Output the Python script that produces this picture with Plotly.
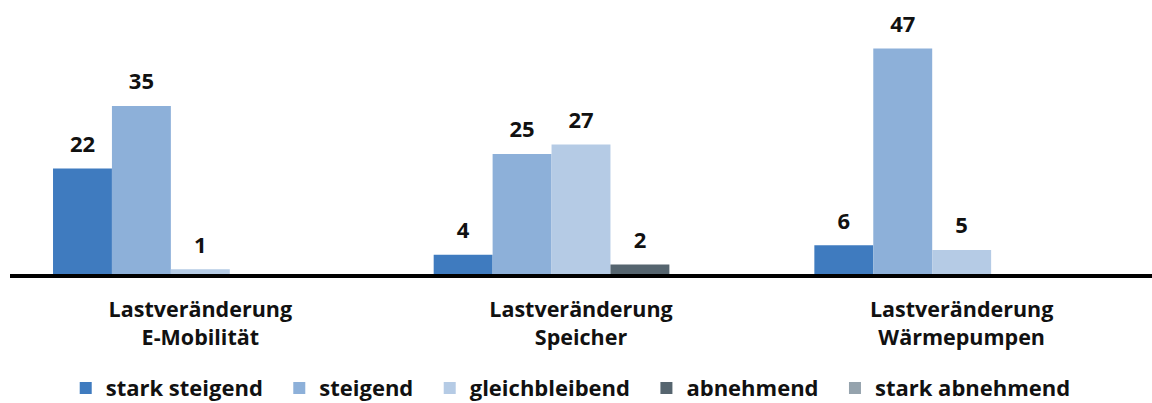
import plotly.graph_objects as go

categories = ["Lastveränderung<br>E-Mobilität", "Lastveränderung<br>Speicher", "Lastveränderung<br>Wärmepumpen"]
series_names = ["stark steigend", "steigend", "gleichbleibend", "abnehmend", "stark abnehmend"]
stark_steigend = [22, 4, 6]
steigend = [35, 25, 47]
gleichbleibend = [1, 27, 5]
abnehmend = [0, 2, 0]
stark_abnehmend = [0, 0, 0]

series_values = [stark_steigend, steigend, gleichbleibend, abnehmend, stark_abnehmend]
colors = ["#3F7BBF", "#8DB0D9", "#B5CBE5", "#56656F", "#95A3AD"]

FONT = "Open Sans"
INK = "#111111"
PAD = "\u00a0\u00a0"   # extra room between legend entries
LABEL_GAP = 1.6        # clearance (data units) between a bar top and its value label

fig = go.Figure()
for i, (name, vals, col) in enumerate(zip(series_names, series_values, colors)):
    label = name if i == len(series_names) - 1 else name + PAD
    group = f"g{i}"
    # the visible bar
    fig.add_trace(go.Bar(
        x=categories,
        y=vals,
        name=label,
        offsetgroup=group,
        marker=dict(color=col, line=dict(width=0)),
    ))
    # a transparent spacer sitting on the bar, carrying the value label
    fig.add_trace(go.Bar(
        x=categories,
        y=[LABEL_GAP] * len(vals),
        base=vals,
        offsetgroup=group,
        showlegend=False,
        hoverinfo="skip",
        marker=dict(color="rgba(0,0,0,0)", line=dict(width=0)),
        text=[str(v) if v else "" for v in vals],
        textposition="outside",
        cliponaxis=False,
        textfont=dict(family=FONT, size=22, color=INK, weight="bold"),
    ))

fig.update_layout(
    width=1152,
    height=403,
    margin=dict(l=10, r=0, t=10, b=129),
    paper_bgcolor="white",
    plot_bgcolor="white",
    barmode="group",
    bargap=0.226,
    bargroupgap=0,
    showlegend=True,
    legend=dict(
        orientation="h",
        x=0.491, xanchor="center",
        yref="container",
        y=0.037, yanchor="middle",
        font=dict(family=FONT, size=22, color=INK, weight="bold"),
        itemwidth=30,
        traceorder="normal",
    ),
    xaxis=dict(
        showline=True,
        linecolor="black",
        linewidth=4,
        ticks="",
        showgrid=False,
        automargin=False,
        tickfont=dict(family=FONT, size=21.5, color=INK, weight="bold"),
        ticklabelstandoff=13,
    ),
    yaxis=dict(
        range=[0, 55],
        visible=False,
        showgrid=False,
        zeroline=False,
    ),
)

fig.write_html("out.html")
